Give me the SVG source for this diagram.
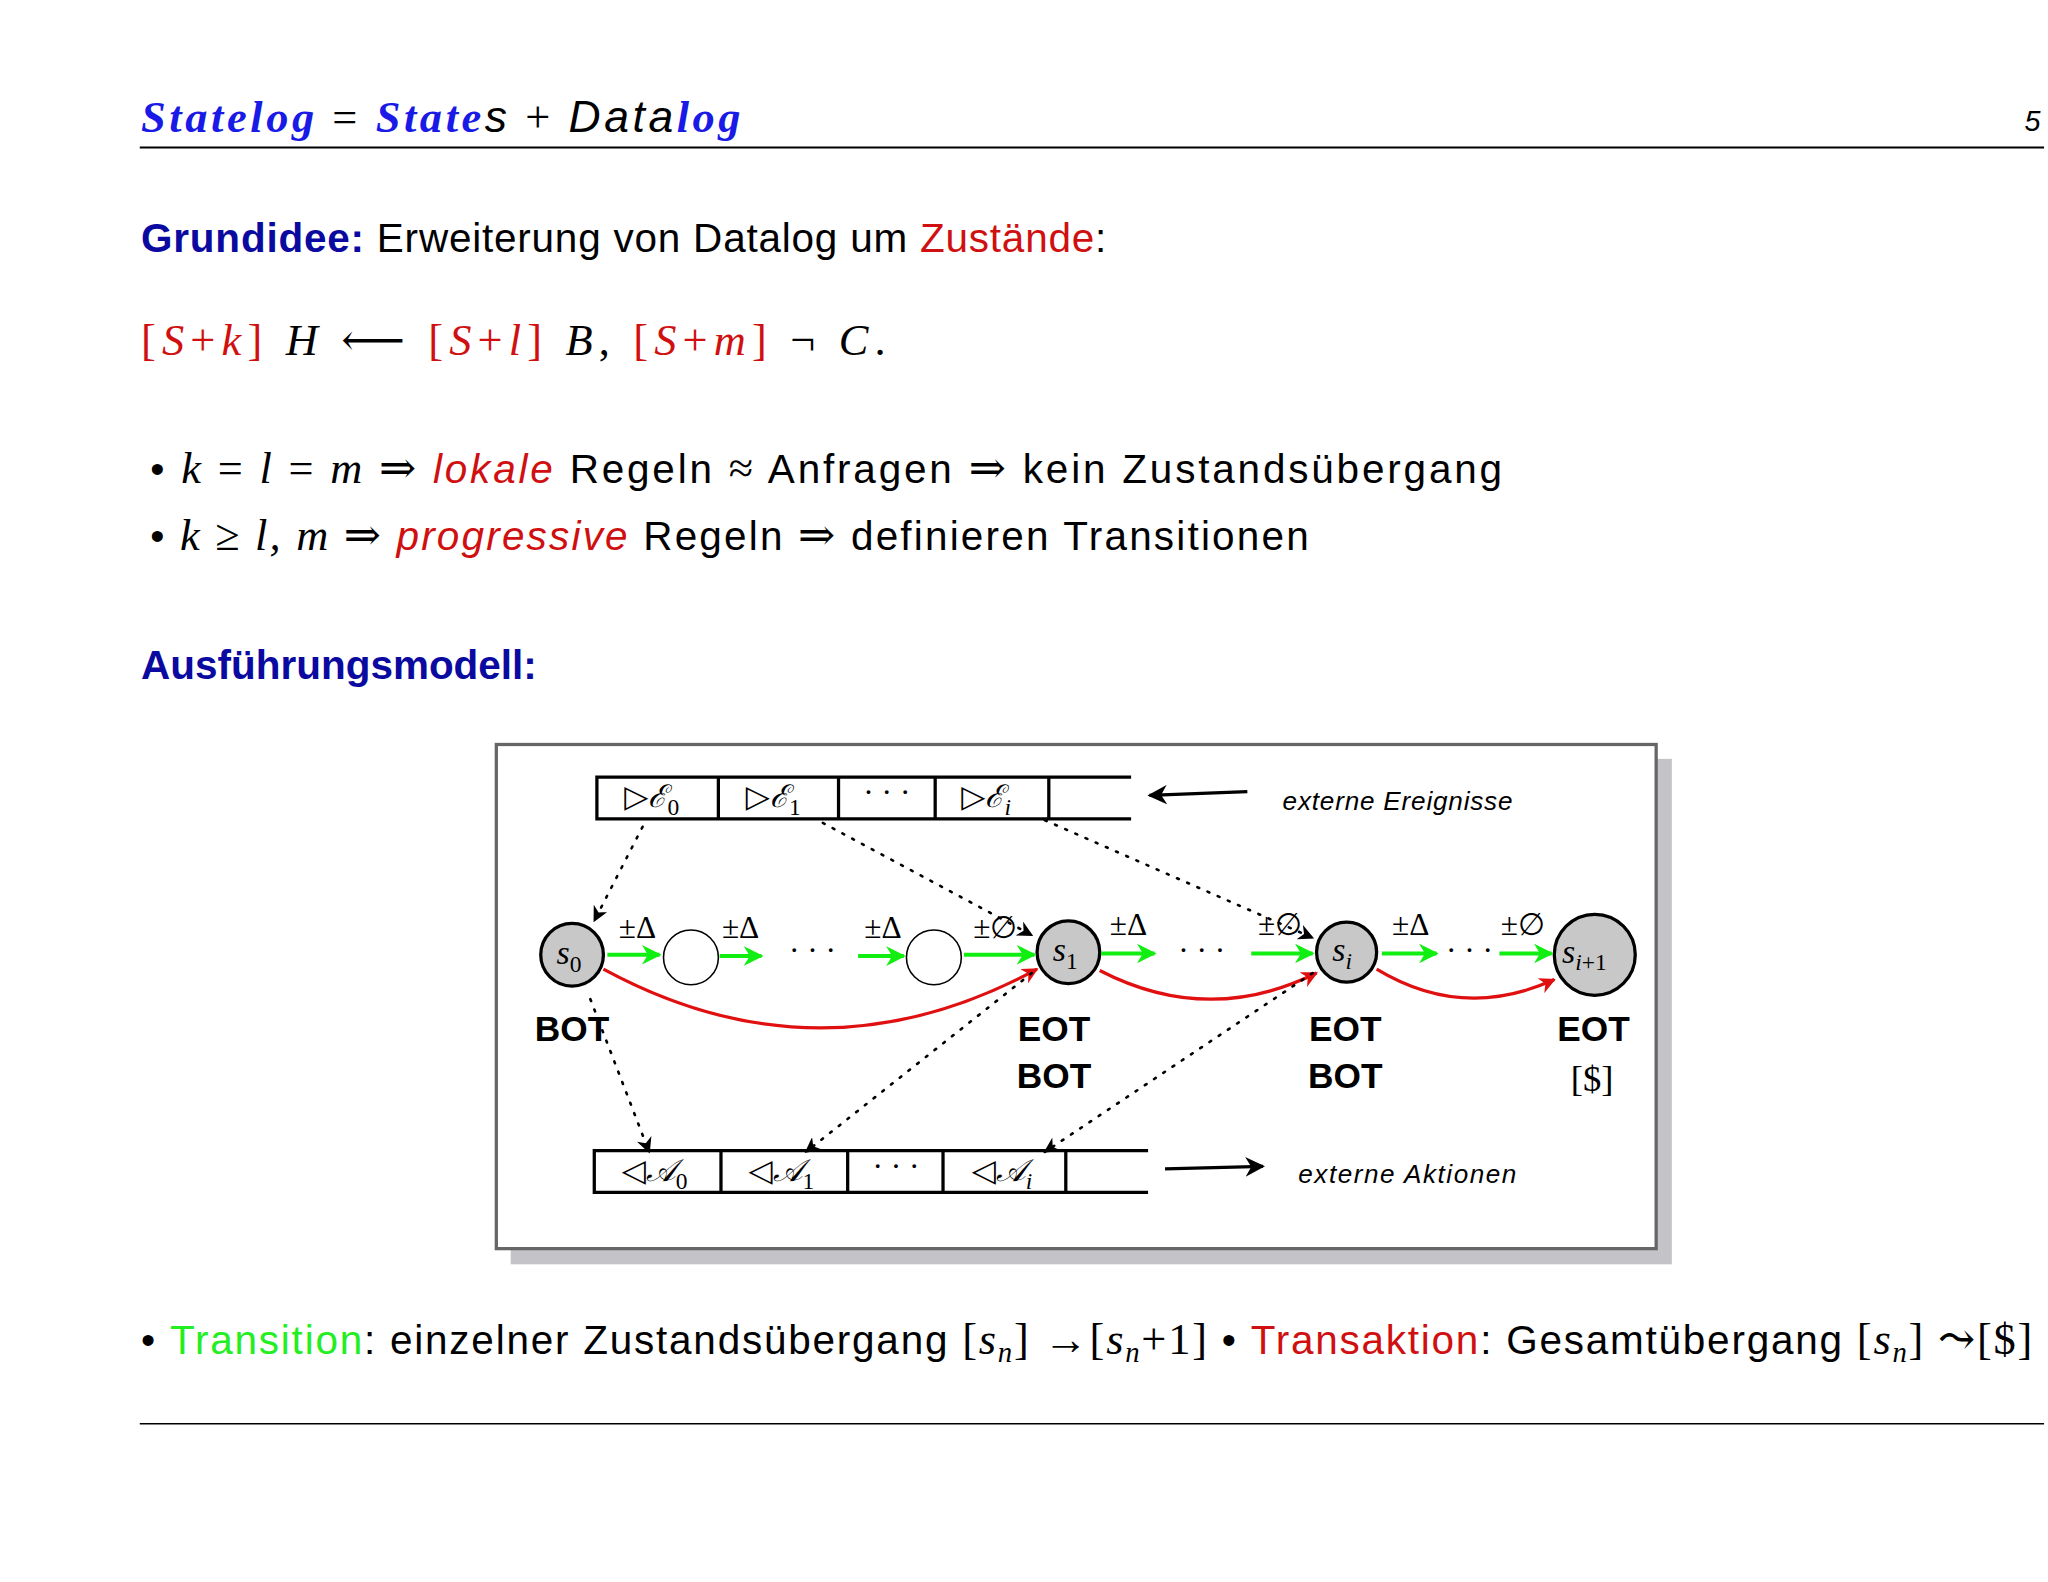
<svg xmlns="http://www.w3.org/2000/svg" width="2048" height="1582" viewBox="0 0 2048 1582">
<defs>
<style>
.s{font-family:"Liberation Sans","DejaVu Sans",sans-serif}
.m{font-family:"Liberation Serif","DejaVu Serif",serif}
.i{font-style:italic}
.b{font-weight:bold}
.blue{fill:#1a1ae6}
.dblue{fill:#0a0aa0}
.red{fill:#d01010}
.grn{fill:#22ee22}
.tape{fill:none;stroke:#000;stroke-width:2.5}
.st{fill:#c8c8c8;stroke:#000;stroke-width:2.5}
.em{fill:#fff;stroke:#000;stroke-width:1.2}
.g{stroke:#11ee11;stroke-width:3;fill:none}
.r{stroke:#e01010;stroke-width:2.5;fill:none}
.d{stroke:#000;stroke-width:2;stroke-dasharray:1.5 7;stroke-linecap:round;fill:none}
</style>
<marker id="ag" viewBox="0 0 10 10" refX="9" refY="5" markerWidth="5" markerHeight="5" orient="auto"><path d="M0,0L10,5L0,10L3,5z" fill="#11ee11"/></marker>
<marker id="ar" viewBox="0 0 10 10" refX="9" refY="5" markerWidth="5" markerHeight="5" orient="auto"><path d="M0,0L10,5L0,10L3,5z" fill="#e01010"/></marker>
<marker id="ak" viewBox="0 0 10 10" refX="9" refY="5" markerWidth="6" markerHeight="6" orient="auto"><path d="M0,0L10,5L0,10L3,5z" fill="#000"/></marker>
</defs>
<rect width="2048" height="1582" fill="#fff"/>
<g transform="scale(1.30612)">
<g id="header">
<text x="108" y="101" font-size="34" class="m i b" textLength="459" lengthAdjust="spacing"><tspan class="blue">Statelog</tspan> <tspan font-weight="normal" font-style="normal">=</tspan> <tspan class="blue">State</tspan><tspan font-weight="normal" class="s">s</tspan> <tspan font-weight="normal" font-style="normal">+</tspan> <tspan font-weight="normal" class="s">Data</tspan><tspan class="blue">log</tspan></text>
<text x="1550" y="100" font-size="22" class="s i">5</text>
<line x1="107" y1="113" x2="1565" y2="113" stroke="#000" stroke-width="1.5"/>
</g>
<g id="text">
<text x="108" y="193" font-size="31" class="s" textLength="739" lengthAdjust="spacing"><tspan class="dblue b">Grundidee:</tspan> Erweiterung von Datalog um <tspan class="red">Zustände</tspan>:</text>
<text x="108" y="272" font-size="34" class="m" textLength="570" lengthAdjust="spacing"><tspan class="red">[<tspan class="i">S</tspan>+<tspan class="i">k</tspan>]</tspan> <tspan class="i">H</tspan>  ⟵  <tspan class="red">[<tspan class="i">S</tspan>+<tspan class="i">l</tspan>]</tspan> <tspan class="i">B</tspan>, <tspan class="red">[<tspan class="i">S</tspan>+<tspan class="i">m</tspan>]</tspan> ¬ <tspan class="i">C</tspan>.</text>
<text x="115" y="370" font-size="31" class="s" textLength="1035" lengthAdjust="spacing">•  <tspan class="m i" font-size="34">k</tspan><tspan class="m" font-size="34"> = </tspan><tspan class="m i" font-size="34">l</tspan><tspan class="m" font-size="34"> = </tspan><tspan class="m i" font-size="34">m</tspan><tspan class="m" font-size="34"> ⇒ </tspan><tspan class="red i">lokale</tspan> Regeln <tspan class="m" font-size="34">≈</tspan> Anfragen <tspan class="m" font-size="34">⇒</tspan> kein Zustandsübergang</text>
<text x="115" y="421" font-size="31" class="s" textLength="887" lengthAdjust="spacing">•  <tspan class="m i" font-size="34">k</tspan><tspan class="m" font-size="34"> ≥ </tspan><tspan class="m i" font-size="34">l, m</tspan><tspan class="m" font-size="34"> ⇒ </tspan><tspan class="red i">progressive</tspan> Regeln <tspan class="m" font-size="34">⇒</tspan> definieren Transitionen</text>
<text x="108" y="520" font-size="31" class="s dblue b" textLength="303" lengthAdjust="spacing">Ausführungsmodell:</text>
<text x="108" y="1037" font-size="31" class="s" textLength="1448" lengthAdjust="spacing">• <tspan class="grn">Transition</tspan>: einzelner Zustandsübergang <tspan class="m" font-size="34">[<tspan class="i">s</tspan><tspan font-size="22" class="i" dy="6">n</tspan><tspan dy="-6">] →[</tspan><tspan class="i">s</tspan><tspan font-size="22" class="i" dy="6">n</tspan><tspan dy="-6">+1]</tspan></tspan>  • <tspan class="red">Transaktion</tspan>: Gesamtübergang <tspan class="m" font-size="34">[<tspan class="i">s</tspan><tspan font-size="22" class="i" dy="6">n</tspan><tspan dy="-6">] ⤳[$]</tspan></tspan></text>
<line x1="107" y1="1090" x2="1565" y2="1090" stroke="#000" stroke-width="1.2"/>
</g>
<g id="frame">
<rect x="391" y="581" width="889" height="387" fill="#c4c4c8"/>
<rect x="380" y="570" width="888" height="386" fill="#fff" stroke="#666" stroke-width="2.5"/>
</g>
<g id="events">
<path class="tape" d="M866,595H457V627H866M550,595V627M642,595V627M716,595V627M803,595V627"/>
<g class="m" font-size="24">
<text x="478" y="618">▷<tspan class="i">ℰ</tspan><tspan font-size="18" dy="6">0</tspan></text>
<text x="571" y="618">▷<tspan class="i">ℰ</tspan><tspan font-size="18" dy="6">1</tspan></text>
<text x="679" y="615" text-anchor="middle">· · ·</text>
<text x="736" y="618">▷<tspan class="i">ℰ</tspan><tspan font-size="18" dy="6" class="i">i</tspan></text>
</g>
<text x="982" y="620" font-size="20" class="s i" textLength="176" lengthAdjust="spacing">externe Ereignisse</text>
</g>
<g id="actions">
<path class="tape" d="M879,881H455V913H879M552,881V913M649,881V913M722,881V913M816,881V913"/>
<g class="m" font-size="24">
<text x="476" y="904">◁<tspan class="i">𝒜</tspan><tspan font-size="18" dy="6">0</tspan></text>
<text x="573" y="904">◁<tspan class="i">𝒜</tspan><tspan font-size="18" dy="6">1</tspan></text>
<text x="686" y="901" text-anchor="middle">· · ·</text>
<text x="744" y="904">◁<tspan class="i">𝒜</tspan><tspan font-size="18" dy="6" class="i">i</tspan></text>
</g>
<text x="994" y="906" font-size="20" class="s i" textLength="167" lengthAdjust="spacing">externe Aktionen</text>
</g>
<g id="s0"><circle class="st" cx="438" cy="731" r="24"/><text x="426" y="738" font-size="26" class="m i">s<tspan font-size="18" dy="6" font-style="normal">0</tspan></text></g>
<g id="m1"><circle class="em" cx="529" cy="733" r="21"/></g>
<g id="m2"><circle class="em" cx="715" cy="733" r="21"/></g>
<g id="s1"><circle class="st" cx="818" cy="729" r="24"/><text x="806" y="736" font-size="26" class="m i">s<tspan font-size="18" dy="6" font-style="normal">1</tspan></text></g>
<g id="si"><circle class="st" cx="1031" cy="729" r="23"/><text x="1020" y="736" font-size="26" class="m i">s<tspan font-size="18" dy="6">i</tspan></text></g>
<g id="si1"><circle class="st" cx="1221" cy="731" r="31"/><text x="1196" y="737" font-size="26" class="m i">s<tspan font-size="18" dy="6">i</tspan><tspan font-size="18" font-style="normal">+1</tspan></text></g>
<g id="labels" class="s b" font-size="27" text-anchor="middle">
<text x="438" y="797">BOT</text>
<text x="807" y="797">EOT</text><text x="807" y="833">BOT</text>
<text x="1030" y="797">EOT</text><text x="1030" y="833">BOT</text>
<text x="1220" y="797">EOT</text>
<text x="1219" y="835" class="m" font-weight="normal" font-size="28">[$]</text>
</g>
<g id="connectors">
<g class="g" marker-end="url(#ag)">
<path d="M465,731H505"/><path d="M551,732H583"/><path d="M657,732H692"/><path d="M738,731H792"/>
<path d="M843,730H884"/><path d="M958,730H1005"/><path d="M1058,730H1100"/><path d="M1148,730H1188"/>
</g>
<g class="m" font-size="24" text-anchor="middle">
<text x="622" y="736">· · ·</text><text x="920" y="736">· · ·</text><text x="1125" y="736">· · ·</text>
<text x="488" y="718">±Δ</text><text x="567" y="718">±Δ</text><text x="676" y="718">±Δ</text><text x="762" y="718">±∅</text>
<text x="864" y="716">±Δ</text><text x="980" y="716">±∅</text><text x="1080" y="716">±Δ</text><text x="1166" y="716">±∅</text>
</g>
<path class="r" marker-end="url(#ar)" d="M462,742Q628,832 794,742"/>
<path class="r" marker-end="url(#ar)" d="M842,743Q925,786 1008,745"/>
<path class="r" marker-end="url(#ar)" d="M1054,742Q1120,782 1190,750"/>
<g class="d" marker-end="url(#ak)">
<path d="M492,633L455,705"/>
<path d="M630,630L790,716"/>
<path d="M800,628L1005,718"/>
<path d="M452,765L497,882"/>
<path d="M790,745L617,882"/>
<path d="M1005,745L800,882"/>
</g>
<path d="M955,606L880,609" stroke="#000" stroke-width="2.5" marker-end="url(#ak)"/>
<path d="M892,895L967,893" stroke="#000" stroke-width="2.5" marker-end="url(#ak)"/>
</g>
</g>
</svg>
